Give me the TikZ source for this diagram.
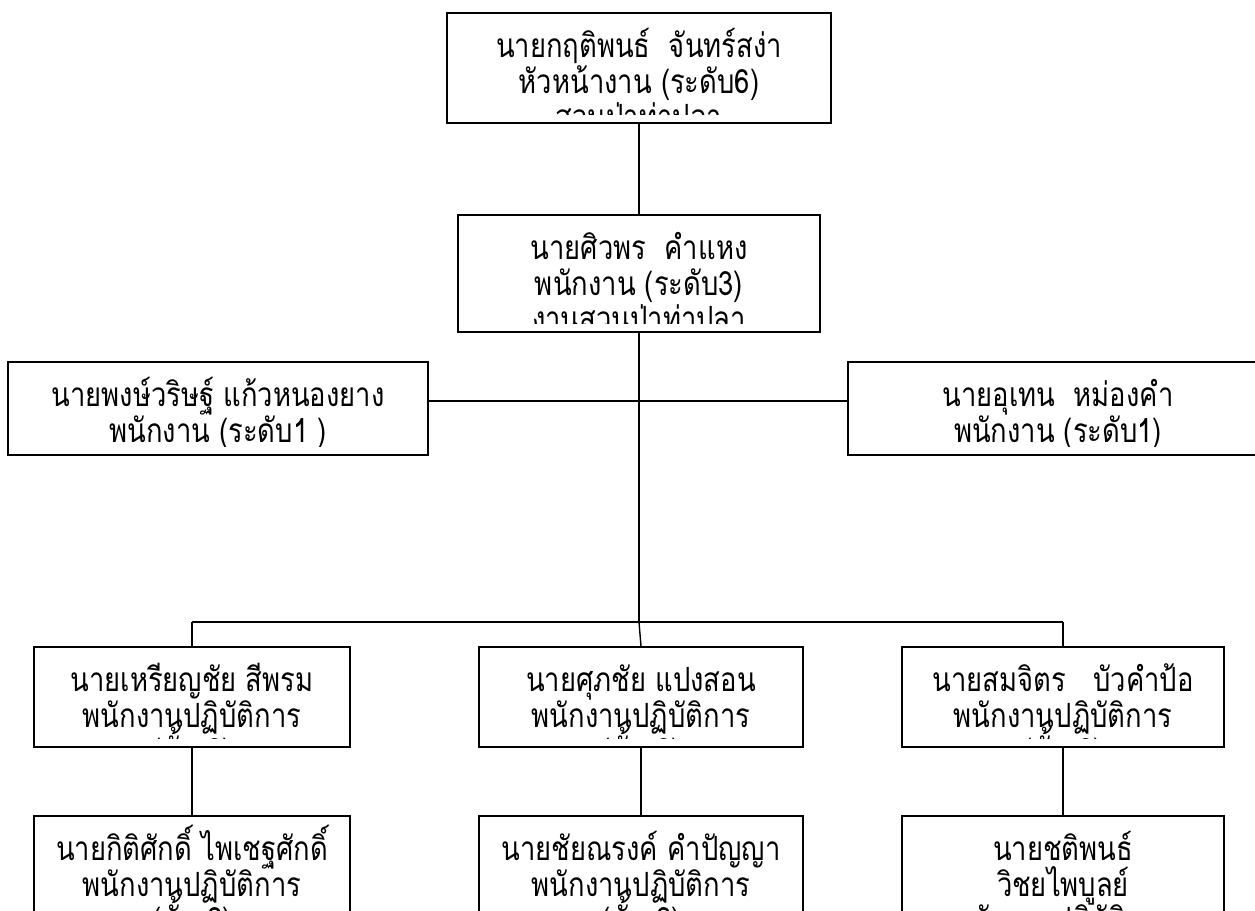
\documentclass[tikz,border=0pt]{standalone}
\usepackage{fontspec}
\setmainfont[Script=Thai, FakeStretch=0.82]{Loma}
\usetikzlibrary{fit}
\setlength{\lineskiplimit}{-30pt}

\tikzset{
  staff/.style={draw, line width=0.8pt, inner sep=0pt},
  stafftext/.style={align=center, inner sep=0pt, font=\fontsize{19}{20.3}\selectfont},
  link/.style={line width=0.8pt}
}

% box from corner to corner, its text cut off at the inner edge
\newcommand{\staffbox}[6]{%
  \node[staff, fit={(#2,#3) (#4,#5)}] (#1) {};
  \begin{scope}
    \clip (#2+4,#3+4) rectangle (#4-4,#5-8);
    \node[stafftext, anchor=north] at (#1.north) {\rule{0pt}{25.5pt}#6};
  \end{scope}}

\begin{document}
\begin{tikzpicture}[x=0.02cm, y=-0.02cm]
  \useasboundingbox (0,0) rectangle (1255,911);
  \clip (0,0) rectangle (1255,911);
  % head of section
  \staffbox{boss}{447}{13}{831}{123}{นายกฤติพนธ์\ \ จันทร์สง่า\\หัวหน้างาน (ระดับ6)\\สวนป่าท่าปลา}
  \staffbox{head}{458}{215}{820}{332}{นายศิวพร\ \ คำแหง\\พนักงาน (ระดับ3)\\งานสวนป่าท่าปลา}
  % staff level 1
  \staffbox{aideL}{8}{362}{428}{455}{นายพงษ์วริษฐ์ แก้วหนองยาง\\พนักงาน (ระดับ1 )}
  \staffbox{aideR}{848}{362}{1268}{455}{นายอุเทน\ \ หม่องคำ\\พนักงาน (ระดับ1)}
  % workers
  \staffbox{wkA}{34}{647}{350}{747}{นายเหรียญชัย สีพรม\\พนักงานปฏิบัติการ\\(ชั้น 2)}
  \staffbox{wkB}{479}{647}{803}{747}{นายศุภชัย แปงสอน\\พนักงานปฏิบัติการ\\(ชั้น 2)}
  \staffbox{wkC}{902}{647}{1224}{747}{นายสมจิตร\ \ \ บัวคำป้อ\\พนักงานปฏิบัติการ\\(ชั้น 2)}
  \staffbox{wkD}{34}{816}{350}{960}{นายกิติศักดิ์ ไพเชฐศักดิ์\\พนักงานปฏิบัติการ\\(ชั้น 2)}
  \staffbox{wkE}{479}{816}{803}{960}{นายชัยณรงค์ คำปัญญา\\พนักงานปฏิบัติการ\\(ชั้น 2)}
  \staffbox{wkF}{902}{816}{1224}{960}{นายชติพนธ์\\วิชยไพบูลย์\\พนักงานปฏิบัติการ}
  % connectors
  \coordinate (hub) at (head.south |- 0,401);
  \coordinate (bar) at (head.south |- 0,622);
  \draw[link] (boss.south) -- (head.north);
  \draw[link] (head.south) -- (bar);
  \draw[link] (aideL.east |- hub) -- (aideR.west |- hub);
  \draw[link] (wkA.north |- bar) -- (wkC.north |- bar);
  \draw[link] (wkA.north |- bar) -- (wkA.north);
  \draw[link] (bar) -- (wkB.north);
  \draw[link] (wkC.north |- bar) -- (wkC.north);
  \draw[link] (wkA.south) -- (wkD.north);
  \draw[link] (wkB.south) -- (wkE.north);
  \draw[link] (wkC.south) -- (wkF.north);
\end{tikzpicture}
\end{document}
